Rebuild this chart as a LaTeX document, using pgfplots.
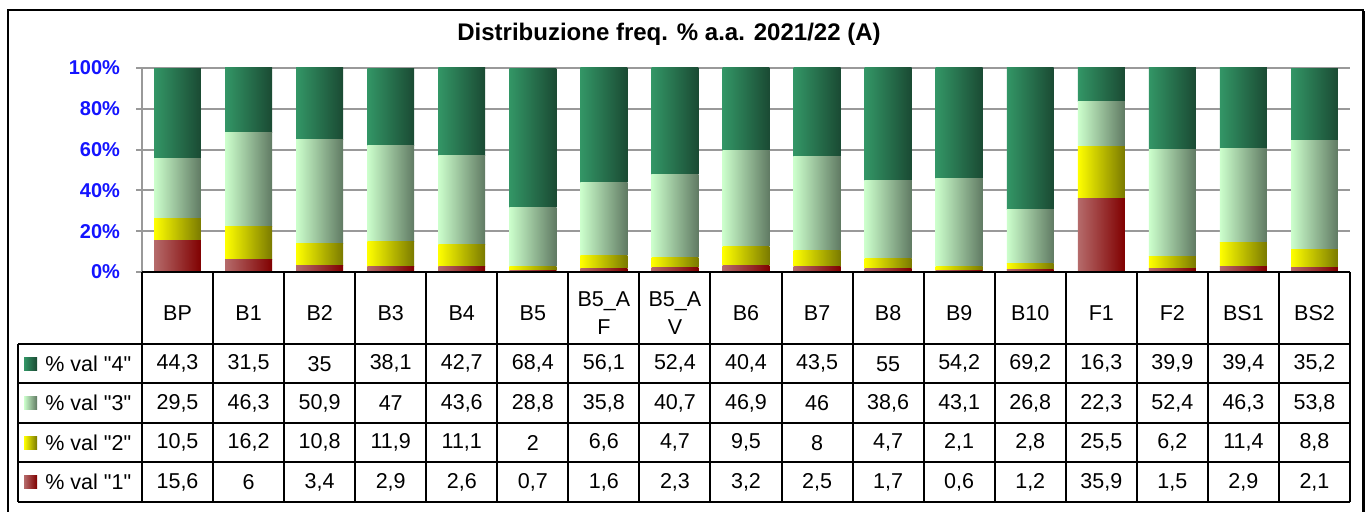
\documentclass[border=0pt]{standalone}
\usepackage{pgfplots}
\pgfplotsset{compat=1.18}
\usepackage{pgfplotstable}
\usepackage{fontspec}
\setmainfont{Liberation Sans}[Ligatures=TeXOff]

\definecolor{vfourL}{RGB}{51,150,102}
\definecolor{vfourR}{RGB}{26,74,51}
\definecolor{vthreeL}{RGB}{204,255,204}
\definecolor{vthreeR}{RGB}{96,122,99}
\definecolor{vtwoL}{RGB}{255,255,0}
\definecolor{vtwoR}{RGB}{122,122,0}
\definecolor{voneL}{RGB}{181,107,107}
\definecolor{voneR}{RGB}{128,0,0}
\definecolor{tickblue}{RGB}{20,20,255}

\pgfplotstableread{
x v4 v3 v2 v1
0 44.3 29.5 10.5 15.6
1 31.5 46.3 16.2 6
2 35 50.9 10.8 3.4
3 38.1 47 11.9 2.9
4 42.7 43.6 11.1 2.6
5 68.4 28.8 2 0.7
6 56.1 35.8 6.6 1.6
7 52.4 40.7 4.7 2.3
8 40.4 46.9 9.5 3.2
9 43.5 46 8 2.5
10 55 38.6 4.7 1.7
11 54.2 43.1 2.1 0.6
12 69.2 26.8 2.8 1.2
13 16.3 22.3 25.5 35.9
14 39.9 52.4 6.2 1.5
15 39.4 46.3 11.4 2.9
16 35.2 53.8 8.8 2.1
}\datatab

\newcommand{\tabfont}{\fontsize{10.75}{14}\selectfont}
\pgfplotsset{chartgeom/.style={at={(71pt,-136pt)}, anchor=south west, scale only axis,
  width=604pt, height=102pt, xmin=-0.5, xmax=16.5, ymin=0, ymax=100, enlargelimits=false}}

\begin{document}
\begin{tikzpicture}
\begin{scope}[x=0.5pt,y=-0.5pt]
\useasboundingbox (0,0) rectangle (1370,512);
\fill[white] (0,0) rectangle (1370,512);
\draw[line width=1pt] (8,515) -- (8,10) -- (1362.5,10) -- (1362.5,515);
\draw[line width=0.9pt] (1364.5,11) -- (1364.5,515);
\node[font=\fontsize{12}{14}\selectfont\bfseries] at (669,34) {Distribuzione freq. \% a.a. 2021/22 (A)};
\end{scope}

% base axis: grid, ticks, category labels
\begin{axis}[chartgeom,
  axis x line*=bottom, axis y line*=left,
  x axis line style={black, line width=1pt},
  y axis line style={black!40, line width=1pt},
  ytick={0,20,40,60,80,100},
  yticklabels={0\%,20\%,40\%,60\%,80\%,100\%},
  yticklabel style={font=\fontsize{10}{12}\selectfont\bfseries, text=tickblue, xshift=-4.5pt},
  ymajorgrids, grid style={black!40, line width=1pt},
  tick align=outside, major tick length=3pt,
  ytick style={black!40, line width=1pt},
  xtick={0,...,16}, xtick style={draw=none},
  xticklabels={BP,B1,B2,B3,B4,B5,{B5\_A\\F},{B5\_A\\V},B6,B7,B8,B9,B10,F1,F2,BS1,BS2},
  xticklabel style={font=\tabfont, anchor=center, align=center, yshift=-17.5pt},
]
\end{axis}

% stacked bars, one axis per category so that each bar gets its own shading
\pgfplotsinvokeforeach{0,...,16}{
\begin{axis}[chartgeom, hide axis, ybar stacked, bar width=0.66,
  every axis plot/.append style={x filter/.expression={abs(x-#1)<0.2 ? x : nan}}]
\addplot[draw=none, left color=voneL, right color=voneR] table[x=x, y=v1] {\datatab};
\addplot[draw=none, left color=vtwoL, right color=vtwoR] table[x=x, y=v2] {\datatab};
\addplot[draw=none, left color=vthreeL, right color=vthreeR] table[x=x, y=v3] {\datatab};
\addplot[draw=none, left color=vfourL, right color=vfourR] table[x=x, y=v4] {\datatab};
\end{axis}
}

% table values
\begin{axis}[at={(71pt,-136pt)}, anchor=north west, scale only axis,
  width=604pt, height=115pt,
  xmin=-0.5, xmax=16.5, ymin=0, ymax=230, y dir=reverse,
  hide axis, clip=false,
  nodes near coords={\pgfmathprintnumber[use comma,fixed,precision=1,assume math mode=true]{\pgfplotspointmeta}},
  every node near coord/.append style={anchor=center, font=\tabfont, text=black, inner sep=0pt},
]
\addplot[draw=none, mark=none, point meta=explicit] table[x=x, y expr=91.75, meta=v4] {\datatab};
\addplot[draw=none, mark=none, point meta=explicit] table[x=x, y expr=131.25, meta=v3] {\datatab};
\addplot[draw=none, mark=none, point meta=explicit] table[x=x, y expr=170.75, meta=v2] {\datatab};
\addplot[draw=none, mark=none, point meta=explicit] table[x=x, y expr=210.25, meta=v1] {\datatab};
\end{axis}

\begin{scope}[x=0.5pt,y=-0.5pt]
% table grid
\foreach \yy in {344,383.5,423,462.5,502}
  \draw[line width=1pt] (18,\yy) -- (1350,\yy);
\draw[line width=1pt] (142,272) -- (1350,272);
\draw[line width=1pt] (18,344) -- (18,502);
\foreach \k in {0,...,17}
  \draw[line width=1pt] ({142+\k*71.0588},272) -- ({142+\k*71.0588},502);
% legend column
\foreach \yy/\cl/\cr/\lab in {363.75/vfourL/vfourR/4, 403.25/vthreeL/vthreeR/3, 442.75/vtwoL/vtwoR/2, 482.25/voneL/voneR/1} {
  \shade[left color=\cl, right color=\cr] (24,\yy-6.5) rectangle (37,\yy+6.5);
  \node[anchor=west, font=\tabfont, inner sep=0pt] at (45,\yy) {\% val "\lab"};
}
\end{scope}
\end{tikzpicture}
\end{document}
